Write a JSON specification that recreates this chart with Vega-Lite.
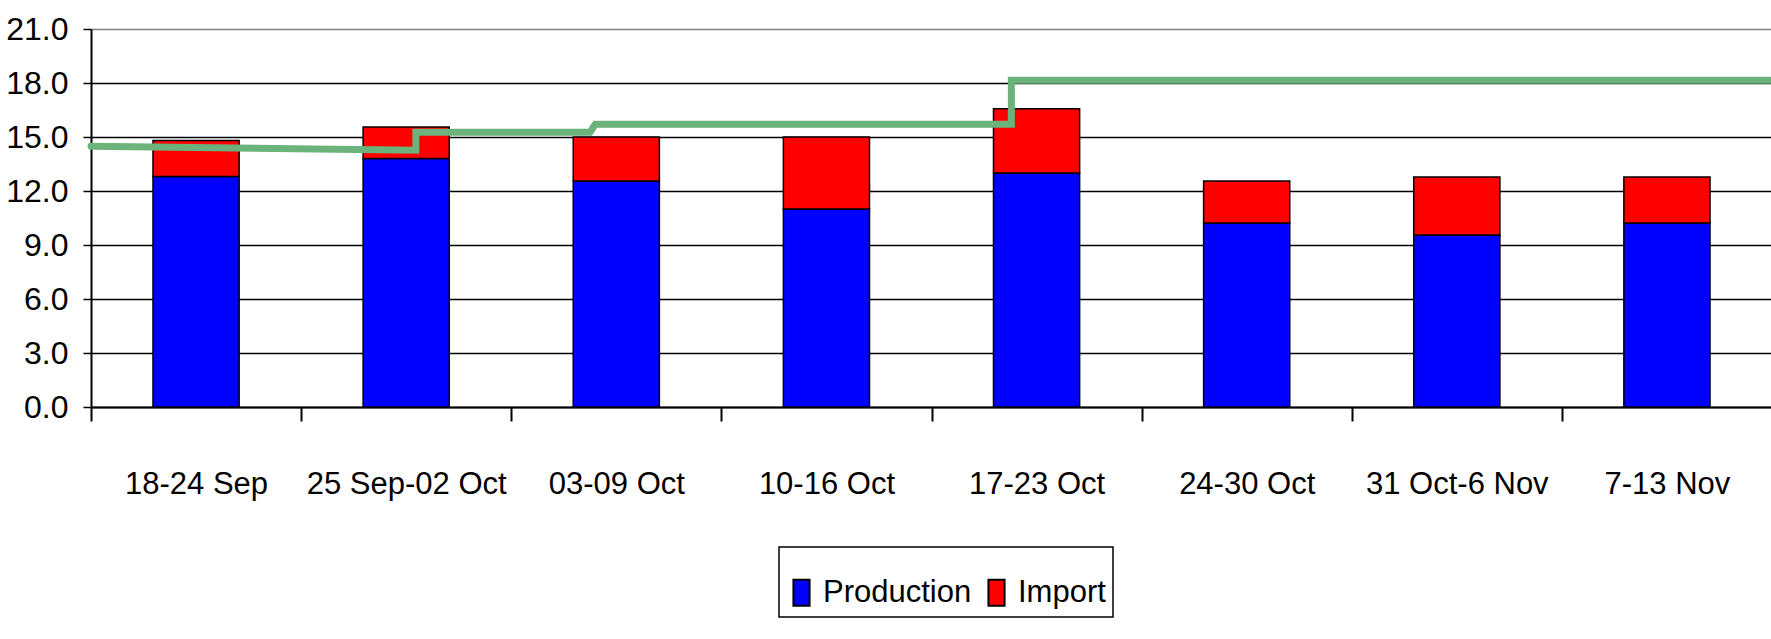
{
  "$schema": "https://vega.github.io/schema/vega-lite/v6.json",
  "width": 1681,
  "height": 378,
  "autosize": "none",
  "padding": {"left": 91, "top": 29, "right": 0, "bottom": 232},
  "background": "white",
  "config": {
    "view": {"stroke": null},
    "font": "Liberation Sans, Arial, sans-serif",
    "axis": {
      "labelFont": "Liberation Sans, Arial, sans-serif",
      "labelColor": "black",
      "domainColor": "black",
      "tickColor": "black"
    },
    "legend": {
      "labelFont": "Liberation Sans, Arial, sans-serif"
    }
  },
  "datasets": {
    "bars": [
      {"week": "18-24 Sep", "series": "Production", "value": 12.8},
      {"week": "18-24 Sep", "series": "Import", "value": 2.0},
      {"week": "25 Sep-02 Oct", "series": "Production", "value": 13.8},
      {"week": "25 Sep-02 Oct", "series": "Import", "value": 1.75},
      {"week": "03-09 Oct", "series": "Production", "value": 12.55},
      {"week": "03-09 Oct", "series": "Import", "value": 2.45},
      {"week": "10-16 Oct", "series": "Production", "value": 11.0},
      {"week": "10-16 Oct", "series": "Import", "value": 4.0},
      {"week": "17-23 Oct", "series": "Production", "value": 13.0},
      {"week": "17-23 Oct", "series": "Import", "value": 3.57},
      {"week": "24-30 Oct", "series": "Production", "value": 10.22},
      {"week": "24-30 Oct", "series": "Import", "value": 2.33},
      {"week": "31 Oct-6 Nov", "series": "Production", "value": 9.55},
      {"week": "31 Oct-6 Nov", "series": "Import", "value": 3.23},
      {"week": "7-13 Nov", "series": "Production", "value": 10.22},
      {"week": "7-13 Nov", "series": "Import", "value": 2.56}
    ],
    "line": [
      {"seq": 1, "weekpos": 0, "level": 14.49},
      {"seq": 2, "weekpos": 1.546, "level": 14.26},
      {"seq": 3, "weekpos": 1.546, "level": 15.27},
      {"seq": 4, "weekpos": 2.375, "level": 15.27},
      {"seq": 5, "weekpos": 2.4, "level": 15.71},
      {"seq": 6, "weekpos": 4.38, "level": 15.71},
      {"seq": 7, "weekpos": 4.38, "level": 18.15},
      {"seq": 8, "weekpos": 8, "level": 18.15}
    ]
  },
  "layer": [
    {
      "data": {"name": "bars"},
      "mark": {"type": "bar", "width": {"band": 0.41}, "stroke": "black", "strokeWidth": 1.5},
      "encoding": {
        "x": {
          "field": "week",
          "type": "nominal",
          "sort": null,
          "scale": {"paddingInner": 0, "paddingOuter": 0},
          "axis": {
            "title": null,
            "labelAngle": 0,
            "labelFontSize": 31,
            "labelBaseline": "alphabetic",
            "labelPadding": 72,
            "tickBand": "extent",
            "tickSize": 14,
            "tickWidth": 2,
            "domainWidth": 2,
            "grid": false,
            "labelLimit": 400
          }
        },
        "y": {
          "field": "value",
          "type": "quantitative",
          "stack": "zero",
          "scale": {"domain": [0, 21], "nice": false},
          "axis": {
            "title": null,
            "values": [0, 3, 6, 9, 12, 15, 18, 21],
            "format": ".1f",
            "labelFontSize": 32,
            "labelPadding": 15,
            "tickSize": 8,
            "tickWidth": 1.5,
            "domainWidth": 2,
            "grid": true,
            "gridWidth": 1.5,
            "gridOpacity": 1,
            "gridColor": {"condition": {"test": "datum.value === 21", "value": "#808080"}, "value": "black"}
          }
        },
        "color": {
          "field": "series",
          "type": "nominal",
          "scale": {"domain": ["Production", "Import"], "range": ["#0000FF", "#FF0000"]},
          "legend": {
            "orient": "none",
            "legendX": 688,
            "legendY": 518,
            "direction": "horizontal",
            "title": " ",
            "titleFontSize": 12,
            "titlePadding": 11,
            "padding": 7,
            "strokeColor": "black",
            "labelFontSize": 31,
            "labelColor": "black",
            "labelOffset": 6,
            "labelLimit": 300,
            "columnPadding": 9,
            "symbolType": "M-0.62,-1H0.62V1H-0.62Z",
            "symbolSize": 676,
            "symbolStrokeColor": "black",
            "symbolStrokeWidth": 2,
            "symbolOpacity": 1,
            "encode": {"legend": {"update": {"strokeWidth": {"value": 1.5}}}}
          }
        },
        "order": {"field": "series", "sort": "descending"}
      }
    },
    {
      "data": {"name": "line"},
      "mark": {"type": "line", "color": "#6BB37B", "strokeWidth": 7, "strokeCap": "round", "strokeJoin": "miter", "clip": false},
      "encoding": {
        "x": {"field": "weekpos", "type": "quantitative", "scale": {"domain": [0, 8], "nice": false, "zero": false}, "axis": null},
        "y": {"field": "level", "type": "quantitative"},
        "order": {"field": "seq", "type": "quantitative"}
      }
    }
  ],
  "resolve": {"scale": {"x": "independent"}}
}
